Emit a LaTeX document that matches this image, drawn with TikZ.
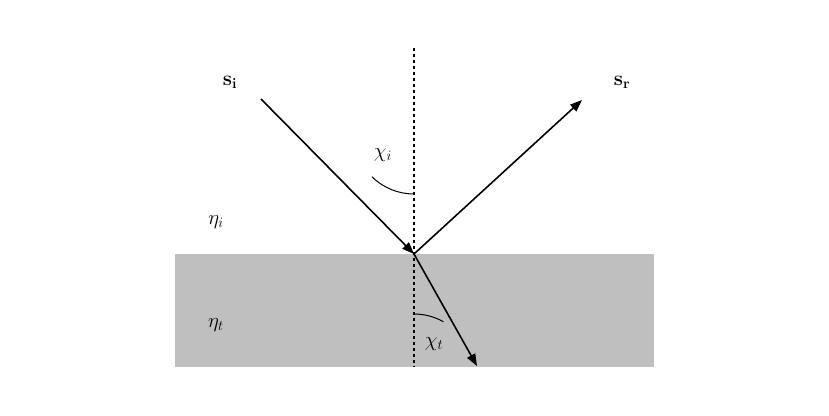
\documentclass[tikz,border=0pt]{standalone}
\usetikzlibrary{arrows.meta}
\begin{document}
\begin{tikzpicture}[x=1pt,y=-1pt,
  ray/.style={line width=1.6pt,-{Triangle[length=12pt,width=9pt]}},
  lbl/.style={font=\fontsize{22}{24}\selectfont}]
\useasboundingbox (0,0) rectangle (829,415);
\fill[fill={rgb,255:red,191;green,191;blue,191}] (175,254) rectangle (654,367);
\coordinate (o) at (414,254);
\coordinate (si) at (261,99);
\coordinate (sr) at (582,100);
\coordinate (st) at (477,366);
\coordinate (top) at (414,48);
\coordinate (bot) at (414,367);
\draw[dashed,line width=1.2pt] (top) -- (bot);
\draw[ray] (si) -- (o);
\draw[ray] (o) -- (sr);
\draw[ray] (o) -- (st);
\draw[line width=1pt] (414,194) arc[start angle=90,end angle=134.6,radius=60];
\draw[line width=1pt] (414,314) arc[start angle=270,end angle=299.4,radius=60];
\node[lbl] (lsi) at (230,82) {$\mathbf{s}_\mathbf{i}$};
\node[lbl] (lsr) at (622,82) {$\mathbf{s}_\mathbf{r}$};
\node[lbl] (lci) at (383,155) {$\chi_i$};
\node[lbl] (lct) at (434,344) {$\chi_t$};
\node[lbl] (lei) at (216,222) {$\eta_i$};
\node[lbl] (let) at (216,325) {$\eta_t$};
\end{tikzpicture}
\end{document}
